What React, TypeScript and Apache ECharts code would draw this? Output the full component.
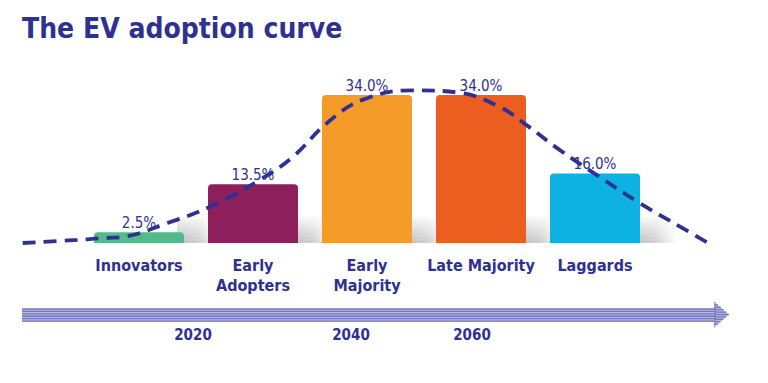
import React, { useEffect, useRef } from "react";
import * as echarts from "echarts";

const categories = ["Innovators", "Early\nAdopters", "Early\nMajority", "Late Majority", "Laggards"];
const shares = [2.5, 13.5, 34.0, 34.0, 16.0];
const barColors = ["#55b98c", "#8d1f5d", "#f49b29", "#eb5e20", "#0db2e2"];
// adoption curve, x in category units (0 = Innovators centre), y in %
const curveX = [-1.02, -0.54, -0.34, -0.14, 0.25, 0.62, 1.06, 1.35, 1.65, 1.96, 2.4, 2.82, 3.17, 3.4, 3.69, 4.04, 4.39, 4.75, 4.98];
const curveY = [0.0, 0.7, 1.1, 1.4, 4.6, 8.3, 14.5, 19.8, 27.6, 32.9, 35.1, 34.5, 31.2, 27.1, 21.4, 15.2, 9.2, 3.7, 0.2];
const years = ["2020", "2040", "2060"];

const NAVY = "#2e3192";
const FONT = "'DejaVu Sans Condensed', 'DejaVu Sans', sans-serif";
const yearX = [193, 351, 472];

export default function App() {
  const ref = useRef<HTMLDivElement>(null);
  useEffect(() => {
    const chart = echarts.init(ref.current!, null, { renderer: "svg" });
    const stripes: any[] = [];
    const top = 308, bottom = 322;
    for (let y = top + 0.4; y < bottom; y += 2.4) {
      stripes.push({ type: "rect", shape: { x: 22, y, width: 694, height: 1.3 }, style: { fill: "#7477bb" } });
    }
    // arrow head stripes
    const headTop = 301.5, headBot = 327.5, headBase = 714, tip = 729;
    const mid = (headTop + headBot) / 2, half = (headBot - headTop) / 2;
    for (let y = headTop + 0.4; y < headBot; y += 2.4) {
      const yc = y + 0.65;
      const len = (tip - headBase) * (1 - Math.abs(yc - mid) / half);
      if (len > 0.5) stripes.push({ type: "rect", shape: { x: headBase, y, width: len, height: 1.3 }, style: { fill: "#7477bb" } });
    }
    const shadowHeights = [27, 24, 21, 18, 15, 12, 9, 6, 3];
    const option: any = {
      animation: false,
      grid: [
        { left: 82, right: 116, top: 69, bottom: 140 },
        { left: 22, right: 58, top: 69, bottom: 140 },
      ],
      xAxis: [
        {
          type: "category",
          gridIndex: 0,
          data: categories,
          axisLine: { show: false },
          axisTick: { show: false },
          axisLabel: { color: NAVY, fontFamily: FONT, fontWeight: "bold", fontSize: 16, lineHeight: 20, margin: 12, interval: 0 },
        },
        { type: "value", gridIndex: 1, min: -1.026, max: 5.009, show: false },
      ],
      yAxis: [
        { type: "value", gridIndex: 0, min: 0, max: 40, show: false },
        { type: "value", gridIndex: 1, min: 0, max: 40, show: false },
      ],
      graphic: [
        { type: "text", left: 22, top: 14, style: { text: "The EV adoption curve", fill: NAVY, font: `bold 28px ${FONT}` } },
        { type: "rect", shape: { x: 22, y: top, width: 694, height: bottom - top }, style: { fill: "#b9bbe0" } },
        { type: "polygon", shape: { points: [[headBase, headTop], [tip, mid], [headBase, headBot]] }, style: { fill: "#b9bbe0" } },
        ...stripes,
        ...years.map((y, i) => ({
          type: "text",
          x: yearX[i],
          y: 327,
          style: { text: y, fill: NAVY, font: `bold 15px ${FONT}`, align: "center", verticalAlign: "top" },
        })),
      ],
      series: [
        {
          type: "custom",
          z: 1,
          silent: true,
          data: shares.map((v, i) => [i, v]),
          renderItem: (params: any, api: any) => {
            const p = api.coord([api.value(0), 0]);
            const layers = shadowHeights.map((h) => ({
              type: "rect",
              shape: { x: p[0] + 38, y: p[1] - h, width: 44, height: h },
              style: {
                fill: new echarts.graphic.LinearGradient(0, 0, 1, 0, [
                  { offset: 0, color: "rgba(0,0,0,0.032)" },
                  { offset: 0.5, color: "rgba(0,0,0,0.022)" },
                  { offset: 1, color: "rgba(0,0,0,0)" },
                ]),
              },
            }));
            return { type: "group", children: layers };
          },
        },
        {
          type: "bar",
          z: 2,
          barWidth: 90,
          data: shares.map((v, i) => ({ value: v, itemStyle: { color: barColors[i], borderRadius: [4, 4, 0, 0] } })),
          label: {
            show: true,
            position: "top",
            distance: 2,
            color: NAVY,
            fontFamily: FONT,
            fontSize: 15,
            formatter: (p: any) => p.value.toFixed(1) + "%",
          },
        },
        {
          type: "line",
          z: 3,
          xAxisIndex: 1,
          yAxisIndex: 1,
          smooth: 0.4,
          symbol: "none",
          data: curveX.map((x, i) => [x, curveY[i]]),
          lineStyle: { color: NAVY, width: 3.8, type: [13, 8] },
        },
      ],
    };
    chart.setOption(option);
    return () => chart.dispose();
  }, []);
  return <div ref={ref} style={{ width: 768, height: 383, position: "absolute", left: 0, top: 0 }} />;
}
